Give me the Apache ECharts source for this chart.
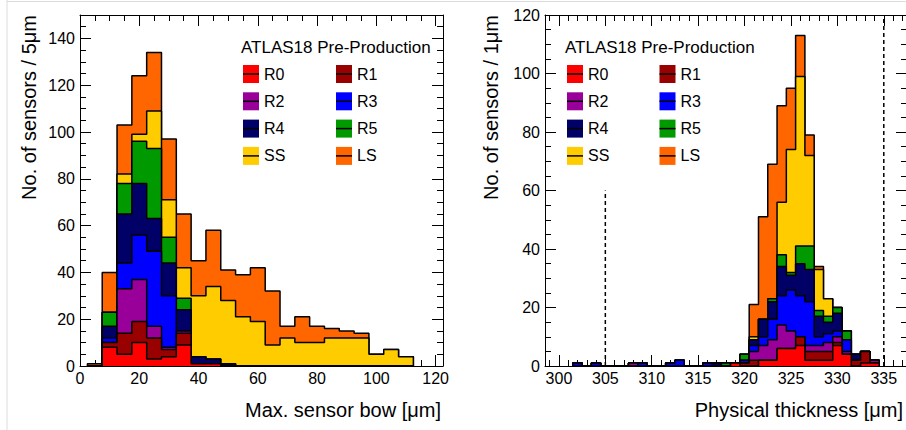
<!DOCTYPE html>
<html><head><meta charset="utf-8">
<script src="https://cdn.jsdelivr.net/npm/echarts@6/dist/echarts.min.js"></script>
<style>html,body{margin:0;padding:0;background:#fff}#c{width:906px;height:430px}</style>
</head><body><div id="c"></div>
<script>
// ---------- data ----------
const seriesNames = ['R0','R1','R2','R3','R4','R5','SS','LS'];
const seriesColors = ['#ff0000','#990000','#990099','#0000ff','#000066','#009900','#ffcc00','#ff6600'];

// Left panel: max. sensor bow, 5 um bins (bin centres)
const bowBins = [5,10,15,20,25,30,35,40,45,50,55,60,65,70,75,80,85,90,95,100,105,110];
const bowR0 = [0,8,5,10,3,4,9,1,1,0,0,0,0,0,0,0,0,0,0,0,0,0];
const bowR1 = [0,2,9,9,9,3,5,0,0,0,0,0,0,0,0,0,0,0,0,0,0,0];
const bowR2 = [0,0,19,18,5,1,1,0,0,0,0,0,0,0,0,0,0,0,0,0,0,0];
const bowR3 = [0,2,11,19,32,22,0,0,0,0,0,0,0,0,0,0,0,0,0,0,0,0];
const bowR4 = [0,5,21,22,14,14,9,3,2,1,0,0,0,0,0,0,0,0,0,0,0,0];
const bowR5 = [0,6,13,18,30,11,5,0,0,0,0,0,0,0,0,0,0,0,0,0,0,0];
const bowSS = [0,0,4,3,16,16,13,26,31,27,21,19,9,12,10,10,12,12,12,5,7,4];
const bowLS = [1,17,21,25,25,26,23,15,24,13,18,23,23,5,11,7,4,3,2,0,0,0];
const bowXTicks = [0,20,40,60,80,100,120];
const bowXMinor = [0,5,10,15,20,25,30,35,40,45,50,55,60,65,70,75,80,85,90,95,100,105,110,115,120];
const bowYTicks = [0,20,40,60,80,100,120,140];
const bowYMinor = [0,5,10,15,20,25,30,35,40,45,50,55,60,65,70,75,80,85,90,95,100,105,110,115,120,125,130,135,140,145];

// Right panel: physical thickness, 1 um bins (bin centres)
const thickBins = [302,303,304,305,306,307,308,309,310,311,312,313,314,315,316,317,318,319,320,321,322,323,324,325,326,327,328,329,330,331,332,333,334];
const thickR0 = [0,0,0,0,0,0,0,0,0,0,0,0,0,0,0,0,0,1, 0,0,2,2,6,6,7,2,2,2,7,4,0,1,1];
const thickR1 = [0,0,0,0,0,0,0,0,0,0,0,0,0,0,0,0,0,0, 1,2,0,0,0,0,3,3,3,3,1,0,2,4,0];
const thickR2 = [0,0,0,0,0,0,1,0,0,0,0,0,0,0,0,0,0,0, 0,3,5,7,8,6,0,2,2,3,2,1,0,0,1];
const thickR3 = [1,0,1,0,0,0,0,1,0,0,1,2,0,0,1,0,0,0, 1,2,3,7,10,14,14,15,3,3,2,4,0,0,0];
const thickR4 = [0,0,0,0,0,0,0,0,0,0,0,0,0,0,0,1,0,0, 0,2,6,6,10,5,11,11,7,4,6,0,2,0,0];
const thickR5 = [0,0,0,0,0,0,0,0,0,0,0,0,0,0,0,0,1,0, 2,0,0,1,4,1,6,8,2,2,2,3,0,0,0];
const thickSS = [0,0,0,0,0,0,0,0,0,0,0,0,0,0,0,0,0,0, 0,1,0,0,18,42,58,31,14,6,0,0,0,0,0];
const thickLS = [0,0,0,0,0,0,0,0,0,0,0,0,0,0,0,0,0,0, 0,11,35,46,33,21,14,7,1,0,0,0,0,0,0];
const thickXTicks = [300,305,310,315,320,325,330,335];
const thickXMinor = [299,300,301,302,303,304,305,306,307,308,309,310,311,312,313,314,315,316,317,318,319,320,321,322,323,324,325,326,327,328,329,330,331,332,333,334,335,336,337];
const thickYTicks = [0,20,40,60,80,100,120];
const thickYMinor = [0,5,10,15,20,25,30,35,40,45,50,55,60,65,70,75,80,85,90,95,100,105,110,115,120];
const thickCutX = [305, 335];
const thickCutTop = [60, 120];

const headerText = 'ATLAS18 Pre-Production';
const bowXTitle = 'Max. sensor bow [\u03bcm]';
const bowYTitle = 'No. of sensors / 5\u03bcm';
const thickXTitle = 'Physical thickness [\u03bcm]';
const thickYTitle = 'No. of sensors / 1\u03bcm';

// ---------- helpers ----------
const FONT = '"Liberation Sans", Arial, Helvetica, sans-serif';

function axis(o) {
  return {
    type: 'value', gridIndex: o.grid, min: o.min, max: o.max, position: o.pos,
    splitLine: {show: false}, minorTick: {show: false},
    axisLine: {show: !!o.line, onZero: false, lineStyle: {color: '#000', width: 1}},
    axisTick: {show: true, inside: true, length: o.len, customValues: o.ticks, lineStyle: {color: '#000', width: 1}},
    axisLabel: o.labels ? {show: true, customValues: o.ticks, fontSize: 16, color: '#000', fontFamily: FONT, margin: o.margin} : {show: false},
    z: 0
  };
}

function stack(bins, width, raw, xi, yi) {
  const out = [];
  for (let k = raw.length - 1; k >= 0; k--) {
    const cum = bins.map((_, i) => { let s = 0; for (let j = 0; j <= k; j++) s += raw[j][i]; return s; });
    const pts = [[bins[0] - width / 2, 0]];
    bins.forEach((b, i) => pts.push([b - width / 2, cum[i]]));
    pts.push([bins[bins.length - 1] + width / 2, 0]);
    out.push({
      name: seriesNames[k], type: 'line', step: 'end', xAxisIndex: xi, yAxisIndex: yi,
      data: pts, symbol: 'none', showSymbol: false, color: seriesColors[k],
      lineStyle: {color: '#000', width: 1.5},
      areaStyle: {color: seriesColors[k], opacity: 1, origin: 'start'},
      z: 2 + (raw.length - 1 - k), silent: true, animation: false
    });
  }
  return out;
}

const xAxes = [
  axis({grid: 0, min: 0, max: 122.5, pos: 'bottom', line: true, len: 11, ticks: bowXTicks, labels: true, margin: 4}),
  axis({grid: 0, min: 0, max: 122.5, pos: 'bottom', len: 6, ticks: bowXMinor}),
  axis({grid: 0, min: 0, max: 122.5, pos: 'top', line: true, len: 11, ticks: bowXTicks}),
  axis({grid: 0, min: 0, max: 122.5, pos: 'top', len: 6, ticks: bowXMinor}),
  axis({grid: 1, min: 298.5, max: 337.5, pos: 'bottom', line: true, len: 11, ticks: thickXTicks, labels: true, margin: 4}),
  axis({grid: 1, min: 298.5, max: 337.5, pos: 'bottom', len: 6, ticks: thickXMinor}),
  axis({grid: 1, min: 298.5, max: 337.5, pos: 'top', line: true, len: 11, ticks: thickXTicks}),
  axis({grid: 1, min: 298.5, max: 337.5, pos: 'top', len: 6, ticks: thickXMinor})
];
const yAxes = [
  axis({grid: 0, min: 0, max: 150, pos: 'left', line: true, len: 11, ticks: bowYTicks, labels: true, margin: 5}),
  axis({grid: 0, min: 0, max: 150, pos: 'left', len: 6, ticks: bowYMinor}),
  axis({grid: 0, min: 0, max: 150, pos: 'right', line: true, len: 11, ticks: bowYTicks}),
  axis({grid: 0, min: 0, max: 150, pos: 'right', len: 6, ticks: bowYMinor}),
  axis({grid: 1, min: 0, max: 120, pos: 'left', line: true, len: 11, ticks: thickYTicks, labels: true, margin: 5}),
  axis({grid: 1, min: 0, max: 120, pos: 'left', len: 6, ticks: thickYMinor}),
  axis({grid: 1, min: 0, max: 120, pos: 'right', line: true, len: 11, ticks: thickYTicks}),
  axis({grid: 1, min: 0, max: 120, pos: 'right', len: 6, ticks: thickYMinor})
];

const series = [].concat(
  stack(bowBins, 5, [bowR0, bowR1, bowR2, bowR3, bowR4, bowR5, bowSS, bowLS], 0, 0),
  stack(thickBins, 1, [thickR0, thickR1, thickR2, thickR3, thickR4, thickR5, thickSS, thickLS], 4, 4)
);
thickCutX.forEach((x, i) => series.push({
  type: 'line', xAxisIndex: 4, yAxisIndex: 4, data: [[x, 0], [x, thickCutTop[i]]],
  symbol: 'none', lineStyle: {color: '#000', width: 1.5, type: [4, 3]}, z: 30, silent: true, animation: false
}));

// legends: two columns per panel
const LEG_W = 16, LEG_H = 18, LEG_GAP = 9.3, LEG_TOP = 65;
const legendCols = [
  {left: 243, names: ['R0','R2','R4','SS']},
  {left: 336, names: ['R1','R3','R5','LS']},
  {left: 567, names: ['R0','R2','R4','SS']},
  {left: 659.5, names: ['R1','R3','R5','LS']}
];
const legends = legendCols.map(c => ({
  orient: 'vertical', left: c.left, top: LEG_TOP, padding: 0, itemGap: LEG_GAP,
  itemWidth: LEG_W, itemHeight: LEG_H, selectedMode: false, icon: 'rect',
  textStyle: {fontSize: 16, color: '#000', fontFamily: FONT, lineHeight: LEG_H},
  data: c.names.map(n => ({name: n, icon: 'rect', itemStyle: {color: seriesColors[seriesNames.indexOf(n)], borderWidth: 0}}))
}));
const graphics = [];
legendCols.forEach(c => c.names.forEach((n, r) => {
  const y = LEG_TOP + r * (LEG_H + LEG_GAP) + LEG_H / 2;
  graphics.push({type: 'line', silent: true, z: 100, shape: {x1: c.left, y1: y, x2: c.left + LEG_W, y2: y},
                 style: {stroke: '#000', lineWidth: 1.5}});
}));
// axis titles (right-aligned at the axis end, ROOT style)
const titleStyle = {fontSize: 20, fontFamily: FONT, fill: '#000'};
graphics.push({type: 'text', silent: true, x: 441, y: 410,
  style: Object.assign({text: bowXTitle, align: 'right', verticalAlign: 'middle'}, titleStyle)});
graphics.push({type: 'text', silent: true, x: 903, y: 410,
  style: Object.assign({text: thickXTitle, align: 'right', verticalAlign: 'middle'}, titleStyle)});
graphics.push({type: 'text', silent: true, x: 29, y: 15, rotation: Math.PI / 2,
  style: Object.assign({text: bowYTitle, align: 'right', verticalAlign: 'middle'}, titleStyle)});
graphics.push({type: 'text', silent: true, x: 491, y: 15, rotation: Math.PI / 2,
  style: Object.assign({text: thickYTitle, align: 'right', verticalAlign: 'middle'}, titleStyle)});
graphics.push({type: 'line', silent: true, shape: {x1: 7, y1: 0, x2: 7, y2: 430}, style: {stroke: '#dcdcdc', lineWidth: 1}});
graphics.push({type: 'line', silent: true, shape: {x1: 7, y1: 1.5, x2: 906, y2: 1.5}, style: {stroke: '#dcdcdc', lineWidth: 1}});

const chart = echarts.init(document.getElementById('c'), null, {renderer: 'svg', width: 906, height: 430});
chart.setOption({
  animation: false,
  backgroundColor: '#fff',
  textStyle: {fontFamily: FONT},
  title: [
    {text: headerText, left: 241, top: 39, padding: 0, textStyle: {fontSize: 17, fontWeight: 'normal', color: '#000', fontFamily: FONT, lineHeight: 17}},
    {text: headerText, left: 565, top: 39, padding: 0, textStyle: {fontSize: 17, fontWeight: 'normal', color: '#000', fontFamily: FONT, lineHeight: 17}}
  ],
  grid: [
    {left: 80, top: 15, width: 363, height: 351, containLabel: false, outerBoundsMode: 'none'},
    {left: 545, top: 15, width: 362, height: 351, containLabel: false, outerBoundsMode: 'none'}
  ],
  xAxis: xAxes,
  yAxis: yAxes,
  legend: legends,
  graphic: graphics,
  series: series
});
</script></body></html>
